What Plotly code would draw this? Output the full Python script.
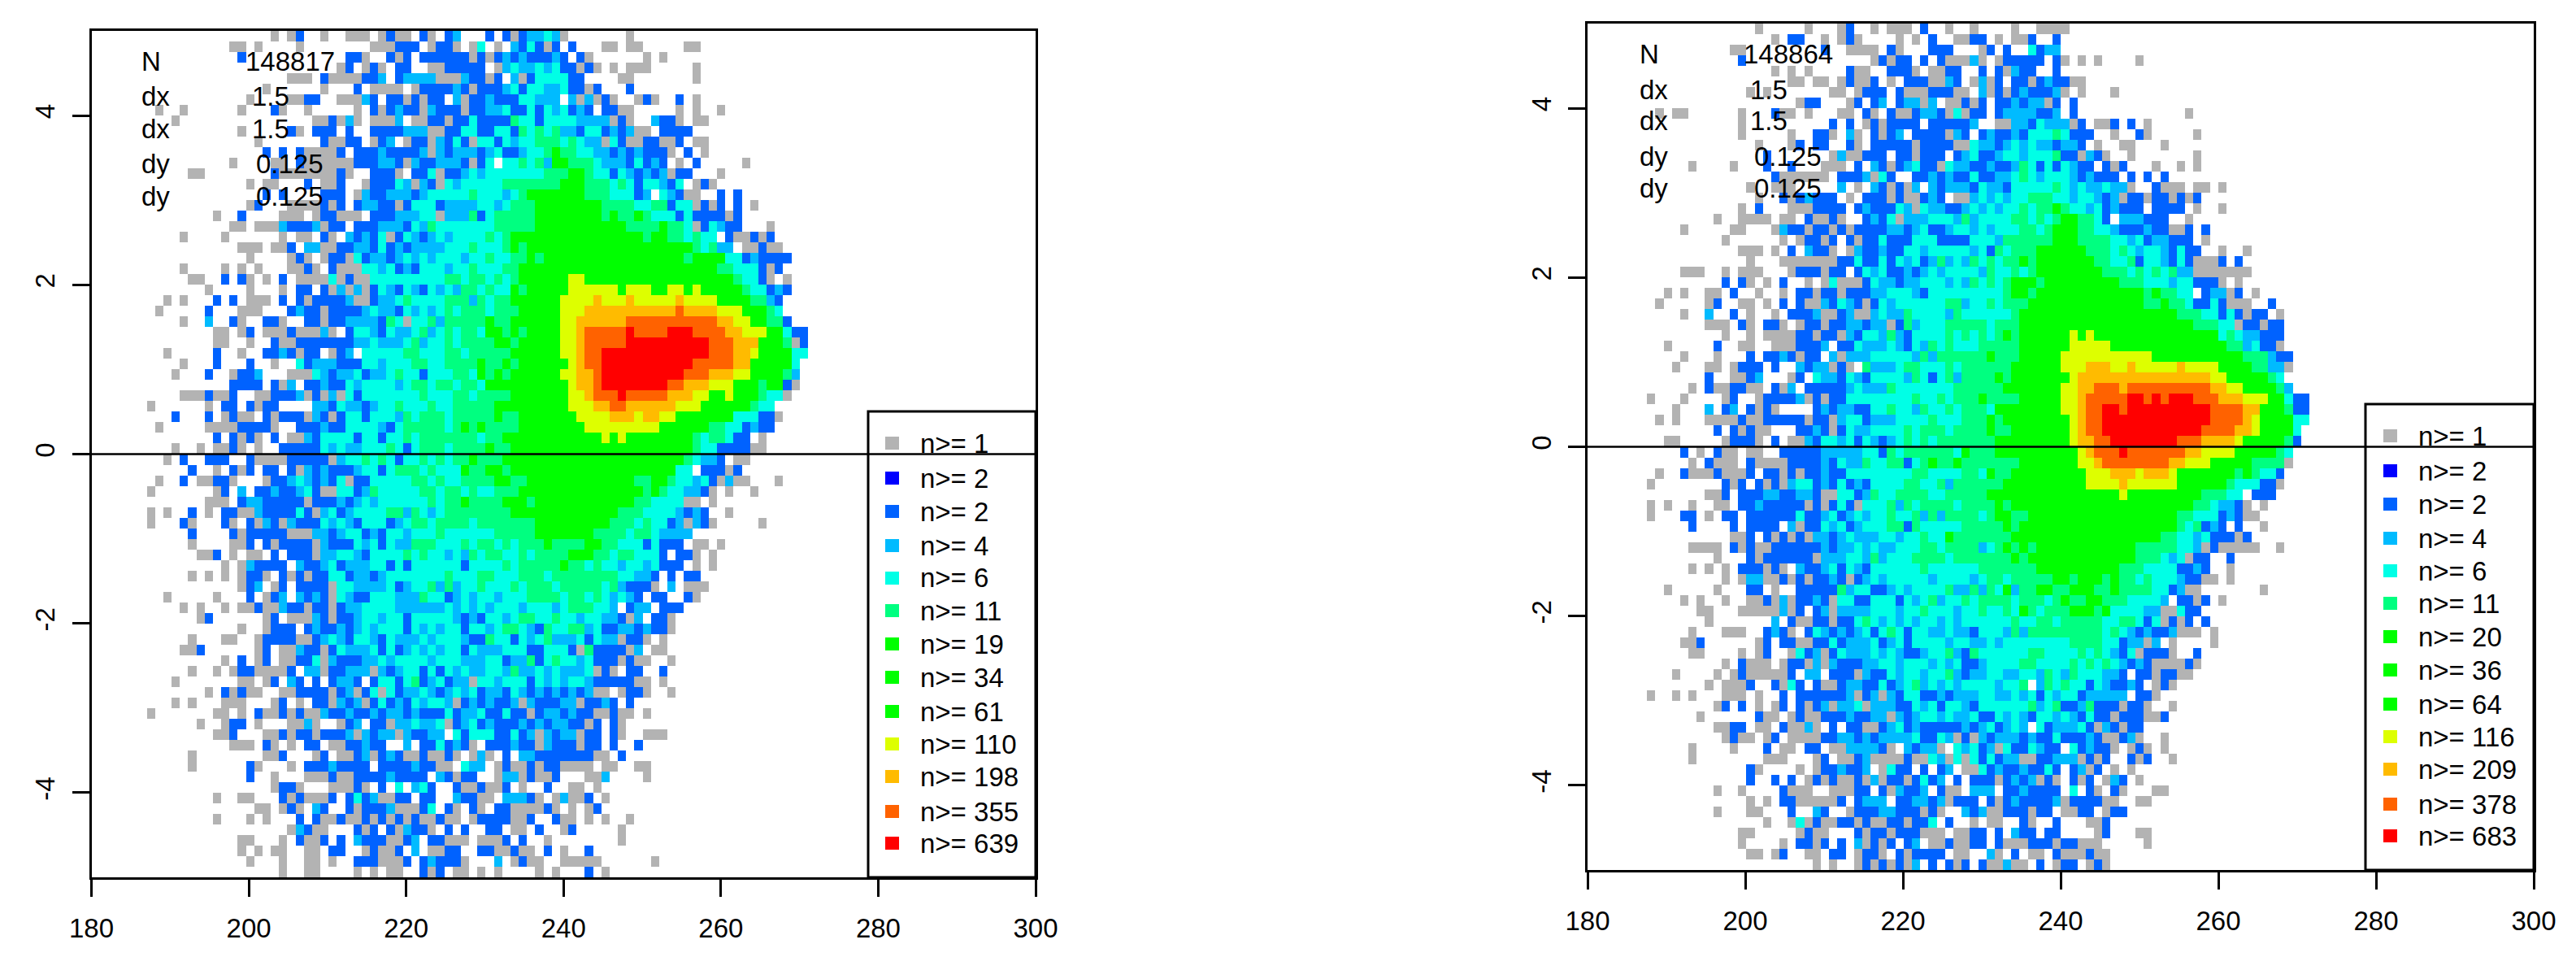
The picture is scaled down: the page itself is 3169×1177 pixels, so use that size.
import re
import plotly.graph_objects as go

# cell classes, run-length coded by row from the top (count + class letter, "." = empty)
CLASS_CODES = ["g", "b", "c", "t", "s", "G", "y", "o", "r", "R"]
CLASS_COLORS = ["#B3B3B3", "#0062FF", "#00BBFF", "#00FFE6", "#00FF80", "#00FF00", "#DDFF00", "#FFBB00", "#FF6200", "#FF0000"]

LEFT_LO = [
"21.g.gb2.g2.3g.gb2g.bg.bc3.b.bgb",
"16.2g.g4.g8.3g3b.g2bg.gt.g.cb",
"17.b12.2bg2.bgb.6bgbgbcbc",
"29.gb.gbg.2b2.2g5b.gctc",
"23.3g.b4g2bc.b4c3gc2bgb.cg",
"20.g6.g3.b.4g.g4bcbg3bctb",
"18.g4.2g2b2.3gcb.2bgbg2b.cg2bc3bt",
"7.g2.g6.g3.bg2.g5.g.bgbc2bgc3bg2b2ctb",
"9.g16.2gbgcg.3gc.2g2bg2bt4bst",
"17.g5.bg.3b.b2.4b3c2g2b2t2b2tbs",
"19.g7.b2g2b.gbc.g2bgcbtbg2tbtct",
"20.b.b.b4gb.3bc4bcgcb3cbct2bc",
"16.g4.2g.b4g2g3b2cbgc2b3cbgbt.2ts",
"11.2g8.b7gbg2.3bg.2btg2bctc5t",
"18.g.2g3.b.2gb2.g3btcgcbgtc5ts",
"20.b.b4.3b.gc2b3cbc5tst2tcts",
"18.gb3.4gbgb.b2c2bgb3tb4c2tct2s",
"14.g2.b4.3g.g2b3g.3b3c2tg3csbt4s",
"16.2g.3gc3bcg2b.3b3cbtcs7t4s",
"10.g4.g6.g.2g.bg.cbcbtgbtcbctc4tsts2G",
"17.3g.2gb.2c2g2b2cbtbcb4c3ts3tsGs",
"18.g4.gbg.g2bgtb2cbctctc3tc2ts2t2s",
"10.g4.g.g.g3.2gbg.b3g2tctbcb3tc2ts3t2sG",
"11.2g2.b.bg.g.b.4gtgb2g9t2st2ststsG",
"13.g4.g3.g.2b.bgcgcgbtcbtcbtctc2sts2tGsG",
"8.g.g3.b.b.3g.b.bg4bc2gb2cts4t3scst2s2G",
"7.g5.b3.3g3.bc2bg4bct2cbtctctst3st3sG",
"10.g2.c2.bg2.2bg2.2bg2b4cbstg2tsc5sG2s2G",
"14.2g.gb.3gb3gcg.b2tcbt2ctsctst2st2GsGs",
"14.2g2.g2.b2g7b2ct3ctsc2tst4s2GsG",
"8.g5.b2.g2.2bcbg2b.gbc.5t2s3t2st5s2G",
"10.g3.b3.b2.g2.tb3c3b2tc3t2s2t4sG2sGsG",
"9.g3.b2.g2bc3.3gtcb2ctb2cts2tb3t2stGsGs2G",
"16.4b.bgc.2bc2btc4tct2st2st2st5G",
"10.3gb2gb2.2g3bcgbgcgtb7ts3t2st4s2G",
"6.g6.g.2b.bg2b4.2cbt2cbc2ts3ts2t5s4G",
"9.b3.b.gb2g.bg3bgcbgb2tb3tcst3st5sG2sG",
"7.g5.4g4bg2.3bc2b4tcbt5stsGsG4sG",
"14.b.bgbg.b.2gcb4tb2tb2tst7st2s3G",
"9.g2.g.2gbg.g2.5btct2c3tstbt3st4sG2s2G",
"8.g.b2.3b2.b4g5bgc2tststb2tstst2sG3s3G",
"11.b2.g.bgb.2b.bgcbc3bc2tbt3sts3tG2s2Gs2G",
"7.g2.b.2g2bg3.g2bctcbcbtg2b5t2sts2t4s2Gs",
"6.g7.gb.c.2bc2bctb2g2tbcs5t2st2sts2t3sG",
"13.3g.b2c5bg3bcbctc6tst2sG4s3G",
"6.g.g2.b.g.2b2gc4btbgctbc4t2scstct8s2G",
"6.g3.bg3.bg.bgcbgc3btctcb3tbct2st4st6s",
"11.b4.bg5b3g2cbc2tbcb2tc3ts6t4s",
"11.g4.2gb.bg4bgc3btctbt2c3s3tst2ststs",
"12.2gb.g.2g.b.3bg2c2tcb4tsts2tctcst2s2ts",
"15.g.gc4b.c2bctb3c2tbtb6tb4tsts",
"11.g.g.g.g2bg.bgbg2b2tb2cbc7ts3t2s3ts",
"17.gbc.gb.4bg2t4ctbc2tscsc2ts3tst",
"8.g5.g3.b.gbc.cbcbgtc2b3t3cs2tbctc2tc3t",
"10.g.g2.g.2gb2gc2bg2bgb2c4t6ctctctc3tc",
"12.gb6.gb.3gcbg2bc2tc2tb5tcbcb2tcts",
"17.g2.g3b.bc2bcbctc3tbtctc2tb2tct2st",
"11.g3.2g2.g4b2gbctcb2tcbt3ctc3tc2bs2tbt",
"10.2gb6.gb.2gc2bgbt3ctbtbctctc2tbt3c3t",
"15.g.b.gb.2g2btgc3b2ctct3tc3t3c2tb2ct",
"11.g2.g.g2b4gb.2cg2b3cgcbc2tbtbtct2c2tcsc",
"9.g7.2g.gb.cb.b.b2cb.b2tbtsbctb2cg2tc3t",
"13.g.bgb2g2.2g4bgbcgbtgtb2ctcbctctb2cbtc",
"9.g.g3.3g3.gb.g.2bgcbcgbtbcbtc2tcgbcbc2bcg",
"6.g7.2g.g.b2gbgb2gc2bc2bcb2cbc3btb2ct2bt2b",
"12.g2.g2b.g3.2gcg2.gbc.2bg2ct2ctgbctbc3bc",
"14.2gb3.2gbg2bg3bcgcb2cgc2b2c.tb3t2btb",
"16.3g.bg.g.2b.2g2bc2b2.c.2btbcbg.3bcb",
"11.g8.2gb3.gb.2gbcgbcb2gb2gbg.gcg.b.c",
"11.g6.bg3.g.3bc4b.4bc2b2g.t2c.gbg",
"18.b2.g3.3gb2g4bc4b.cbg2b2.g2cg",
"21.g2bg3.3gbg.b.t.ctb2.b2gb2gb.g",
"14.g2.2g3.bgb3gb.btbc2g2b.2b2.c2b2g.2c",
"19.2g.gbg.cb2.bg3bc3gbt.bg.bg.2bg",
"14.g3.g.g3.b.b2gb2gbgbgbgb2gb2g.g4b2g",
"23.gcb2g3.bgb.bgc2bg.b.b2.2b.2g",
"17.2g3.g.b2gb.b.c3b2gbc.2b3g.3gb.b",
"17.g.g.2g2.2g.2b2.gb2gb.c.2g2b2.2b2gbg",
"18.g3.g2.2g.g2.3b3gb.bc3bg3.c.gb",
"22.g2.2g4.g.g.2g2.bgb.2g.g.g3.g",
]

LEFT_HI = [
"2ctcg7.g","tbgb.b3.2g.2g5.2g","3bcb.bg6.g.g","ctct2bgbg.g.3g5.g","b4t2b4.2g7.g","2t2ct2bgb3.b",
"t3c.cgcgbg2.gbg2.b.g","tbtctbcb.2b2g5.g.g2.g","tb4t4cgbg2.c2bg.2g","tsts2cb2tbcbc2g.4b",
"t3stst2cgtb2g2b2gb.2g","2tsG2s2t2cbcbc3bg.b.g","tsc2G3st3cbtbcb.g.b5.g","2t3s2Gs2tbtcbcbcg2b3.g",
"4s3G3ststb2tcbt.gbg","7G3s3tbc.tcb2g2.b.b","s8G4s2t2sb2tgbgb.b.g","s8GsG2sGs3tbt4bgb",
"s11G4sG2stgbtc2b3.g","14Gs2G2sts2t.b2gbgb","20Gsts2c.2gb2g","Gs17Gs4G2tbc4b","23G2s3tbgb",
"5G2y18Gs2tbg.g","5G6yG3y2G2yGy5Gs2tbcb","4G4yo3yo5yo4y4G2scb","4G3y11or4o3y3Gst","4G2y6o11r2o2y2G2sb",
"4G2yo5rR4r3R4r2o3y2Gt2b","4G2yo5r10R3r3o3Gsgb","4G2yo2r13R3r2oy4G2t","5Gyo2r11R5r2o5Gt",
"4G2y2or10R3r3o2y4Gsc","5Gy2or8R2r3o3y3Gs2Gbg","5G2yo3rR5r3o2y2Gy3Gs2tg","5G3y2o2r6o3y6Gs2t",
"6G4y3oy2o2y7G3t2bg","7G9y6G2s2tbc2b","9GyGy8Gst2st2b.g","20Gs2t4b2g",
"19Gst2cb.2g","18G2t.3bgb","13G2s2Gs2tctbgc2g3.g","14GsGs2t2cbg.g2.g","s12G2s4t2g.g","11G3s4tcbcb2.g",
"s9G3sts2tbcgcbg5.g","s7G4st2st4c","2sG4s2G2s3tbt3b.2g.g","t4s3G2st2s3tb.2bg.g","4sG2sts2tc2tct3b.g.g",
"2st8s2t2cb.b.2b","3st5stsc3bg.c.3g","4st2ststctcb.2b2.bg","3tct3s2tc.b2c.3b","s2ts2tc2t2cbgc.2bg",
"cbs2t2sct2b2cbc2bg","cts3ctbt2cg2bg.g","2b3tbgs4bgc.2g","sbts2tct3bgb2g2.g","ctct3ctgbg.2b2.b",
"btctc2tc5b2g.g","bcbcbcbc2g.g2bg2.g","c3b2cg2bcb.b","gb2cbc2b2gb2g.g","bcb2c2bgb.bg","cgcb2cg2b.bg2.3g",
"bgc3bg2b.b2.b","c7b2g.b","bg2b4g.2g2.2g","b2gb3.2gc4.g","2.b2.2g.g","bg.gc2gb.g","2gbg.g.gb",
"b2.b2g.g.g2.g",".b2.gb5.g","2.g8.g","g.b.g2.b","2g2.5g6.g",".g.g3.b.g",
]

RIGHT_LO = [
"19.g5.g3.gb2.g.3g.b2.g2.g4.g2.4g",
"21.g.2b2.g.gbg4.g.g.b2.2g2b.g.2gb2.b",
"16.2g9.b2.4g.bg3.3b3.gb.b2.tbc",
"17.b15.gbg2b.b.b3gcg.g5b.b",
"21.g.g.g4.b2g2.3bg.2g2b2.b.bgc2b2.b",
"23.2g.2g.gb2gb.g.3b2gcb.gcgb.2bgbc2b",
"18.g.g7.2g.g3b.b3g3b2g.cgbgbc3bc",
"24.g2b3.gb.bc.b2cgc.2gbgb.2bcb2cgb",
"7.g.2g6.g3.b2g.g3.2g.bg.b2gb2cbgtg2b.b4c2bc",
"17.g10.b.b.gbg4b.5bc2.2g2cbt2c",
"17.g5.g2.2bg.cg.bgbc.4bgcb.bc2bcb3ts",
"19.g3.gb.2b2.bg.5bg4b2gt2cbctct2cb",
"20.b7.gc2g3b.2bg3b.bct2bc2tc3ts",
"11.g4.g3.b2.b3.3g.b.cbgbct2bgt2c2bc2bcstbtb",
"21.b6g.3bcgtb2.2bcbc2bt2b2ctstc2t",
"18.g2.3g5.c.g.cbgbgc.cb3cbt2cb5ts",
"19.g2.bgbc3b.g.3bgb2gbcb.2gctctc2t3st",
"17.g.b3.3g4b.bc3btcgt2c2bctctc2tst2sG",
"14.g2.4g.2g.b2gbg2.bcbtg3c3tcsc4t2ststs",
"10.g5.2g3.gc2bg2bgbg4b2cbct2bc2tctc3t2stsG",
"15.g6.g.g2bgb.bg2bt3b3t4b3tc6sG",
"17.3g.g.b.c2bg.gc2bc2b2tc5tctbst3s3G",
"18.g3.7g2bt2btbtctbcsctcstst2sGs3G",
"10.3g2.g.3g3.g3bg2b.btct2bcbctc4tcs2tsts3G",
"15.b.bg.g.b2.g.gt3gbt2cb2c3tctcststs3Gs2G",
"8.g.g2.2g.b2.g2.g.2bg2bg3b2c3tcb9ts2Gs3G",
"7.g5.gb2.2g.g.b.b2gcbtcbgbtc6t2sc2tst3s4G",
"10.g2.c2.b.g2.g.3bc2gbc2gct2cs4tcs6ts5G",
"13.3g.bg.2bg.g2bg2b2cb2cgbsc3t5st3s5G",
"15.g2.g.4g2bg2bgcb2tcscb4tstststsGs5G",
"8.g5.b2.2g2.3g3bc.2bt3ctcbtcsts3t5s5G",
"10.g3.g3.b.2bcbg2b.cg3c5tcsc6sG3s5G",
"9.g3.2g.g3b.b2.cb2cgbg.s3ct2s3tst6s6G",
"13.b2.2gbc3.gb.t2cbtcb4tcstbtsc4sGs6G",
"11.g.b2g2b2g.bgc.5bct3cs7t6s7G",
"6.g3.g4.gb2.g4bcgbg2b8ts2tst3sG4s5G",
"9.g3.c.bc.bgbg4.bcb2c2b2ts2tcs2tst3st8G",
"7.g.g3.4gb2g5bg2bgc2tb3c4ts3t3sGs7G",
"14.b.bgb2g3.2bcbgbt2c4tst3st4sG2s6G",
"8.2g5.g3bg.b.2gcb2tctbtcbctstst7s8G",
"10.b.g.b2g.2g2.5b5c2tbst6stG3s8G",
"11.g.b3g.b4g4bcbt2cs2t2sbtsG2sG7s5G",
"7.g2.b3gb3gb.2bgbg2bc2b8t2s4t2stG2s6G",
"6.g8.bgb.bgbgc2tbcbtbcb4t2s2tsc6s7G",
"13.2gb.3b2c2b2cb2g2tbcs2t4s2t5s9G",
"6.g.g2.g2.2g.2bc5bgbgbtbg3tscst4st4sGs6G",
"6.g3.2b.g.2b.6bt2bctbctc2ts2tscsc4sts2G2s4G",
"11.b4.b.4b.cg2btctbc3t2sbs5t5sGs5G",
"16.2gb.bgbgbg2cbct3c2tc2ts2tG7s6G",
"11.4g.bgb2g6bcb2ctct2c3t2st4sctsGsGs3G",
"14.g3.bg6bg3c2tcsc3t4st7sGs4G",
"11.g.g.g.3bgbg.c2bctbtcb6ts6t7s3G",
"15.g.g2c2gbgbg2bcbgbctc5tc4tct2st5sG",
"8.g5.g3.2b.g2.5bsc2t2bctc4ts2cscstGc2s2Gs",
"10.g.g2.g2.2gbgcg2bcbg2t2b3tbtctsc2tst4st3sts",
"12.2g3.5gcgb.bcg4c3tc2ts3tc2ts2tstGst2s",
"13.g7.c.b2g2bg2btstctctc2tctc6ts2t2st",
"11.g3.3g2.bcbg.btcbcbctbtstb2t2ct2cb3tcsc4s",
"10.2gb6.gb.2b2g2btb3ctbctb4tc2t2ctc7t",
"11.2g4.g.gb2.gtbcgbt3ctctc2bc2tscbs6t2s2t",
"15.g.b3g.g2bgcgc3b2c2tc3tctct2bc4t2s3t",
"9.g4.g.gb5gb.2c.3bgc2btc2tc2tscb2c2t2c2tcst",
"13.g.3gb2.bgtb.b2gb2c2btbctsctctc4tc2ts.csts",
"6.g2.g.g3.3g.g2.b.6bcgbcgcb2t2bcb3c2t2ctctbtc",
"14.gb.b.g.gb.bgbcg2ctg3c2btctb2tcb6tscts",
"12.g6.b2g.gb2g3bc2b2cgcbc2tct2ct2btctcb2tc",
"14.2g2b.2g.b2gcg.b.2b2gbctbc5bcbctbctc.tbc",
"15.gb2g.gb.4g2b2cbcb4ct2btcgbgcb3cbc2bt",
"11.g4.g3.b.2g.2b.2g4cbg.cb2cg.tctbcgt2btc2b",
"11.g8.3g3.gb.2gbc4gb2gtcgtgtbtb2c2g2bc",
"18.bg4.g.g2bc2bc.gt2b.b.bc.2gtbc2bc2btb",
"18.b2.b.b.gbgb2gbgcg2bgbtbc.b.3bgbcbcgbg",
"14.g2.g4.b3g2.3g2b.bgc2bc.b2g.3c.2bc4b",
"18.g.g.2b5gb.b3c.2b2cbcg3b.bgbc4bc",
"14.g3.2g3.b2.cb2.g3b2c3bgbg2.cbc2g3bg2b.g",
"20.g2.gtgb2g2bgb2g2bg2bt.b2.g.2g2.bg2.b",
"17.2g5.gb2g3.bg2bg3b3g.2g2b.b.c2b.b",
"17.g4.g.2bgb.b.cgbgb.bc.2gb2g2b.b3g3bg",
"18.2g.gb2.2g.2b.g2bg.bg4b.2g2.cg.b.2g.b",
"26.g.g2.gbgbgbgc.b.bgb.b2gc2g.b.g",
]

RIGHT_HI = [
"g","","","g.g.g4.g","","b2g","g.g3.g",".b",".b13.g","cgb.2gb.b.g","t3b2.g2.bg5.g","2cb.g2.2g3.g",
"2bgcbg2.g7.g","tc2b.bgb3.g2.g.g","tcbc3b.b.b.b","tct2ct2cg2.b3g.2g.g","tc2tcbcg2bg2bgbgb","s2tctbc3b.4b.g2.g",
"2G2stb.3c3b2.g","2G2s2tc3bc2b2gb.b","2G4s2tctb2c3b.g","3G3ststc2tcbt2b2.g2.g","4G2s2tsb2tcbtb3gb.b",
"5G3stststs2c7g","7G3s3tc2t3bg.g","10GsG2s2t.b2cgb.g","10G2sG2st2btb3g2.b","14G3s2tbtbg2b.g","16G3s2tg2bg2b",
"GyGy15Gtst2c3b","G5y14G2sct2bg","11y11G3sc2b","3y3o2yo5yo4y4G2s2cg","Gy16o2y5Gst","2y2o3ro10r2o2y4Gsc",
"2yo5r2RrRr3R3r3o3y2Gt2b","2yo2r2Rr10R4r2o3Gs2b","Gyo2r13R4roy4G2t","Gyo2r12R4r2oy4Gt","Gy2o2r8R3r4oy5Gsb",
"2Gyo3rR7r2o4y5Gst","2G2yo8r2o3y5G4sg","3G3y3oy3oy7GsGs2tb","3G4yo6y6Gs3t2bg","7Gy9G3s2t.3b","16G2st2cbg.g",
"14G2s3tbcb2g","14Gstsbcb.b2.g","12G2s2tct3bgb","9G5s2tcgb5g2.g","9G3stctg2b2.b","7G3s4t2bcb2.g",
"Gs3GsG2sts3tc2b2g.g","s3G2sG4s2tbc2g7.g","G2s2G3s4tc.2bgb.g","s3GsG4t2c2gt2b","5s2t2stbtgbgb.b","5ststcbc2bc3g.g",
"t4s2tb2cgc.g4.g","2tststcbtg3bg2.b","tststststcbcb4gbg"[2:],"cs3t2cb.2bg2b2g","s2tbtc2bcb.gbg","2tb5c.2bg",
"2bcs3bg2bg2.g","tcbt2bg3b2gb","2ctbgcbg2b","3bcb2gbcg2.g",".tbc2bg.gbg.g","2cgbgb2.bgb2.g",".bcgb.g.g",".bgb.gcb.g",
".t.bg.bg3.2g","g4b2g2.2g","2g2b.g2b","3.2gb","4.gb3.2g","2b3g5.g","3gb2g","2b.gbg",
]

X_TICKS = [180, 200, 220, 240, 260, 280, 300]
Y_TICKS = [-4, -2, 0, 2, 4]
Y_LABELS = ["-4", "-2", "0", "2", "4"]
LEFT_STATS = ["148817", "1.5", "1.5", "0.125", "0.125"]
RIGHT_STATS = ["148864", "1.5", "1.5", "0.125", "0.125"]
STAT_NAMES = ["N", "dx", "dx", "dy", "dy"]
LEFT_LEVELS = [1, 2, 2, 4, 6, 11, 19, 34, 61, 110, 198, 355, 639]
RIGHT_LEVELS = [1, 2, 2, 4, 6, 11, 20, 36, 64, 116, 209, 378, 683]
LEGEND_COLORS = ["#B3B3B3", "#0000FF", "#0062FF", "#00BBFF", "#00FFE6", "#00FF80", "#00FF00", "#00FF00",
                 "#00FF00", "#DDFF00", "#FFBB00", "#FF6200", "#FF0000"]

W, H = 3169, 1177
FONT = "Liberation Sans"
FS = 33
N_COLS_LEFT, N_COLS_RIGHT, N_COLS = 52, 56, 114


def decode(s):
    out = []
    for cnt, ch in re.findall(r"(\d*)([A-Za-z.])", s):
        out += [ch] * int(cnt or 1)
    return out


def grid(lo_rows, hi_rows, split):
    rows = []
    for lo, hi in zip(lo_rows, hi_rows):
        a = decode(lo)[:split]
        while len(a) < split:          # a row read a little short carries its last class up to the join
            a.append(a[-1])
        cells = (a + decode(hi) + ["."] * N_COLS)[:N_COLS]
        rows.append([CLASS_CODES.index(c) if c in CLASS_CODES else None for c in cells])
    return rows[::-1]


def px(x):
    return x / W


def py(y):
    return 1 - y / H


scale = []
n = len(CLASS_COLORS)
for k, col in enumerate(CLASS_COLORS):
    scale += [[k / n, col], [(k + 1) / n, col]]

fig = go.Figure()
panels = [
    dict(xa="x", ya="y", rows=grid(LEFT_LO, LEFT_HI, N_COLS_LEFT), x0=181.265, xl=112.5, xr=1274, yt=38, yb=1079),
    dict(xa="x2", ya="y2", rows=grid(RIGHT_LO, RIGHT_HI, N_COLS_RIGHT), x0=181.765, xl=1953, xr=3117, yt=29, yb=1070),
]
for p in panels:
    fig.add_trace(go.Heatmap(z=p["rows"], x0=p["x0"], dx=1.05, y0=-4.9375, dy=0.125, xaxis=p["xa"], yaxis=p["ya"],
                             colorscale=scale, zmin=-0.5, zmax=n - 0.5, showscale=False, hoverinfo="skip",
                             zsmooth=False))

axis = dict(automargin=False, showgrid=False, zeroline=False, showline=True, mirror=True, linecolor="black", linewidth=3,
            ticks="outside", ticklen=21, tickwidth=3, tickcolor="black", tickfont=dict(family=FONT, size=FS, color="black"))
layout = dict(template="none", width=W, height=H, autosize=False, margin=dict(l=0, r=0, t=0, b=0, pad=0),
              paper_bgcolor="white", plot_bgcolor="white", showlegend=False)
for i, p in enumerate(panels):
    sfx = "" if i == 0 else "2"
    layout["xaxis" + sfx] = dict(axis, domain=[px(p["xl"]), px(p["xr"])], range=[180, 300], tickvals=X_TICKS,
                                 ticktext=[str(v) for v in X_TICKS], anchor="y" + sfx, ticklabelstandoff=10)
    layout["yaxis" + sfx] = dict(axis, domain=[py(p["yb"]), py(p["yt"])], range=[-5, 5], tickvals=Y_TICKS,
                                 ticktext=Y_LABELS, tickangle=-90, anchor="x" + sfx, ticklabelstandoff=8)
fig.update_layout(**layout)


def text(x, y, s, anchor="left"):
    fig.add_annotation(x=px(x), y=py(y), xref="paper", yref="paper", text=s, showarrow=False, xanchor=anchor,
                       yanchor="middle", font=dict(family=FONT, size=FS, color="black"), borderpad=0)


legends = [
    dict(levels=LEFT_LEVELS, stats=LEFT_STATS, box=(1068, 506, 1274, 1079), dy=0, dx=0, zero=("x", "y"),
         label_x=173, stat_cx=[357, 333, 333, 356, 356], stat_y=[75, 118, 158, 201, 241]),
    dict(levels=RIGHT_LEVELS, stats=RIGHT_STATS, box=(2910, 497, 3117, 1070), dy=-9, dx=1843, zero=("x2", "y2"),
         label_x=2016, stat_cx=[2200, 2176, 2176, 2199, 2199], stat_y=[66, 110, 149, 192, 232]),
]
LEG_Y = [545, 588, 629, 671, 711, 751, 792, 833, 875, 915, 955, 998, 1037]
shapes = []
for lg in legends:
    x0, y0, x1, y1 = lg["box"]
    shapes.append(dict(type="rect", xref="paper", yref="paper", x0=px(x0), x1=px(x1), y0=py(y1), y1=py(y0),
                       fillcolor="white", line=dict(color="black", width=3)))
    for lvl, col, ly in zip(lg["levels"], LEGEND_COLORS, LEG_Y):
        ly2 = ly + lg["dy"]
        shapes.append(dict(type="rect", xref="paper", yref="paper", x0=px(1089 + lg["dx"]), x1=px(1106 + lg["dx"]),
                           y0=py(ly2 + 8), y1=py(ly2 - 8), fillcolor=col, line=dict(width=0)))
        text(1131 + lg["dx"], ly2, f"n&gt;= {lvl}")
    shapes.append(dict(type="line", xref=lg["zero"][0], yref=lg["zero"][1], x0=180, x1=300, y0=0, y1=0,
                       line=dict(color="black", width=2.5)))
    for name, val, cx, sy in zip(STAT_NAMES, lg["stats"], lg["stat_cx"], lg["stat_y"]):
        text(lg["label_x"], sy, name)
        text(cx, sy, val, anchor="center")
fig.update_layout(shapes=shapes)

fig.write_html("out.html", config={"displayModeBar": False},
               post_script="document.body.style.margin='0';document.body.style.overflow='hidden';")
